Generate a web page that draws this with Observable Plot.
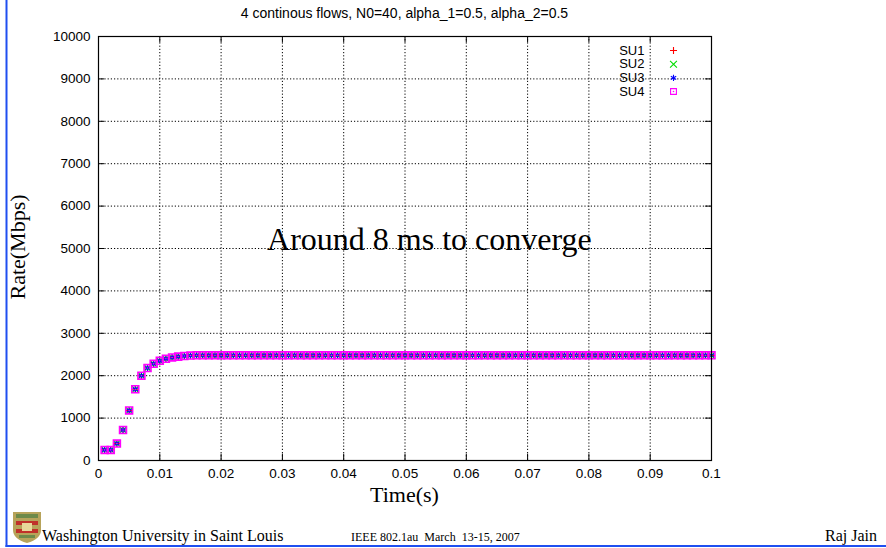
<!DOCTYPE html>
<html>
<head>
<meta charset="utf-8">
<script src="https://cdn.jsdelivr.net/npm/d3@7"></script>
<script src="https://cdn.jsdelivr.net/npm/@observablehq/plot@0.6"></script>
<style>
  html, body { margin: 0; padding: 0; background: #fff; }
  #wrap { position: relative; width: 886px; height: 548px; overflow: hidden; }
  #wrap > svg { position: absolute; left: 0; top: 0; }
  #overlay { pointer-events: none; }
</style>
</head>
<body>
<div id="wrap"></div>
<script>
// ---- data ----
const titleText = "4 continous flows, N0=40, alpha_1=0.5, alpha_2=0.5";
const seriesNames = ["SU1", "SU2", "SU3", "SU4"];
const seriesColors = ["#ff0000", "#00dd00", "#0000ff", "#ff00ff"];
const seriesSymbols = ["plus", "times", "asterisk", "square"];
const xTicks = [0, 0.01, 0.02, 0.03, 0.04, 0.05, 0.06, 0.07, 0.08, 0.09, 0.1];
const xTickLabels = ["0", "0.01", "0.02", "0.03", "0.04", "0.05", "0.06", "0.07", "0.08", "0.09", "0.1"];
const yTicks = [0, 1000, 2000, 3000, 4000, 5000, 6000, 7000, 8000, 9000, 10000];
const yTickLabels = ["0", "1000", "2000", "3000", "4000", "5000", "6000", "7000", "8000", "9000", "10000"];
const time = [
  0.001, 0.002, 0.003, 0.004, 0.005, 0.006, 0.007, 0.008, 0.009, 0.010,
  0.011, 0.012, 0.013, 0.014, 0.015, 0.016, 0.017, 0.018, 0.019, 0.020,
  0.021, 0.022, 0.023, 0.024, 0.025, 0.026, 0.027, 0.028, 0.029, 0.030,
  0.031, 0.032, 0.033, 0.034, 0.035, 0.036, 0.037, 0.038, 0.039, 0.040,
  0.041, 0.042, 0.043, 0.044, 0.045, 0.046, 0.047, 0.048, 0.049, 0.050,
  0.051, 0.052, 0.053, 0.054, 0.055, 0.056, 0.057, 0.058, 0.059, 0.060,
  0.061, 0.062, 0.063, 0.064, 0.065, 0.066, 0.067, 0.068, 0.069, 0.070,
  0.071, 0.072, 0.073, 0.074, 0.075, 0.076, 0.077, 0.078, 0.079, 0.080,
  0.081, 0.082, 0.083, 0.084, 0.085, 0.086, 0.087, 0.088, 0.089, 0.090,
  0.091, 0.092, 0.093, 0.094, 0.095, 0.096, 0.097, 0.098, 0.099, 0.100
];
const su1 = [
  250, 250, 400, 720, 1180, 1680, 2000, 2180, 2280, 2350,
  2400, 2430, 2450, 2465, 2475, 2480, 2480, 2480, 2480, 2480,
  2480, 2480, 2480, 2480, 2480, 2480, 2480, 2480, 2480, 2480,
  2480, 2480, 2480, 2480, 2480, 2480, 2480, 2480, 2480, 2480,
  2480, 2480, 2480, 2480, 2480, 2480, 2480, 2480, 2480, 2480,
  2480, 2480, 2480, 2480, 2480, 2480, 2480, 2480, 2480, 2480,
  2480, 2480, 2480, 2480, 2480, 2480, 2480, 2480, 2480, 2480,
  2480, 2480, 2480, 2480, 2480, 2480, 2480, 2480, 2480, 2480,
  2480, 2480, 2480, 2480, 2480, 2480, 2480, 2480, 2480, 2480,
  2480, 2480, 2480, 2480, 2480, 2480, 2480, 2480, 2480, 2480
];
const su2 = [
  250, 250, 400, 720, 1180, 1680, 2000, 2180, 2280, 2350,
  2400, 2430, 2450, 2465, 2475, 2480, 2480, 2480, 2480, 2480,
  2480, 2480, 2480, 2480, 2480, 2480, 2480, 2480, 2480, 2480,
  2480, 2480, 2480, 2480, 2480, 2480, 2480, 2480, 2480, 2480,
  2480, 2480, 2480, 2480, 2480, 2480, 2480, 2480, 2480, 2480,
  2480, 2480, 2480, 2480, 2480, 2480, 2480, 2480, 2480, 2480,
  2480, 2480, 2480, 2480, 2480, 2480, 2480, 2480, 2480, 2480,
  2480, 2480, 2480, 2480, 2480, 2480, 2480, 2480, 2480, 2480,
  2480, 2480, 2480, 2480, 2480, 2480, 2480, 2480, 2480, 2480,
  2480, 2480, 2480, 2480, 2480, 2480, 2480, 2480, 2480, 2480
];
const su3 = [
  250, 250, 400, 720, 1180, 1680, 2000, 2180, 2280, 2350,
  2400, 2430, 2450, 2465, 2475, 2480, 2480, 2480, 2480, 2480,
  2480, 2480, 2480, 2480, 2480, 2480, 2480, 2480, 2480, 2480,
  2480, 2480, 2480, 2480, 2480, 2480, 2480, 2480, 2480, 2480,
  2480, 2480, 2480, 2480, 2480, 2480, 2480, 2480, 2480, 2480,
  2480, 2480, 2480, 2480, 2480, 2480, 2480, 2480, 2480, 2480,
  2480, 2480, 2480, 2480, 2480, 2480, 2480, 2480, 2480, 2480,
  2480, 2480, 2480, 2480, 2480, 2480, 2480, 2480, 2480, 2480,
  2480, 2480, 2480, 2480, 2480, 2480, 2480, 2480, 2480, 2480,
  2480, 2480, 2480, 2480, 2480, 2480, 2480, 2480, 2480, 2480
];
const su4 = [
  250, 250, 400, 720, 1180, 1680, 2000, 2180, 2280, 2350,
  2400, 2430, 2450, 2465, 2475, 2480, 2480, 2480, 2480, 2480,
  2480, 2480, 2480, 2480, 2480, 2480, 2480, 2480, 2480, 2480,
  2480, 2480, 2480, 2480, 2480, 2480, 2480, 2480, 2480, 2480,
  2480, 2480, 2480, 2480, 2480, 2480, 2480, 2480, 2480, 2480,
  2480, 2480, 2480, 2480, 2480, 2480, 2480, 2480, 2480, 2480,
  2480, 2480, 2480, 2480, 2480, 2480, 2480, 2480, 2480, 2480,
  2480, 2480, 2480, 2480, 2480, 2480, 2480, 2480, 2480, 2480,
  2480, 2480, 2480, 2480, 2480, 2480, 2480, 2480, 2480, 2480,
  2480, 2480, 2480, 2480, 2480, 2480, 2480, 2480, 2480, 2480
];
const annotation = {text: "Around 8 ms to converge", x: 0.0275, y: 4960};
const xLabel = "Time(s)";
const yLabel = "Rate(Mbps)";
const footerLeft = "Washington University in Saint Louis";
const footerMid = "IEEE 802.1au  March  13-15, 2007";
const footerRight = "Raj Jain";

// ---- build ----
const allSeries = [su1, su2, su3, su4];
const rows = seriesNames.map((name, s) => time.map((t, i) => ({t, v: allSeries[s][i], name})));

const sans = "'Liberation Sans', Arial, Helvetica, sans-serif";
const serif = "'Liberation Serif', 'Times New Roman', Times, serif";

// symbol radii (Plot r) giving ~7px wide glyphs with d3's symbol geometry
const symbolR = {plus: 2.4, times: 3.2, asterisk: 2.9, square: 3.9};

const marks = [
  Plot.gridX(xTicks, {stroke: "#000", strokeOpacity: 1, strokeDasharray: "1.2,2", strokeWidth: 1}),
  Plot.gridY(yTicks, {stroke: "#000", strokeOpacity: 1, strokeDasharray: "1.2,2", strokeWidth: 1}),
  // inward tick marks on all four sides
  Plot.ruleX(xTicks, {x: d => d, y1: 0, y2: 150, stroke: "#000"}),
  Plot.ruleX(xTicks, {x: d => d, y1: 9850, y2: 10000, stroke: "#000"}),
  Plot.ruleY(yTicks, {y: d => d, x1: 0, x2: 0.001, stroke: "#000"}),
  Plot.ruleY(yTicks, {y: d => d, x1: 0.099, x2: 0.1, stroke: "#000"}),
  Plot.axisX(xTicks, {tickSize: 0, tickPadding: 8, fontSize: 13.5, fontFamily: sans, fill: "#000",
    tickFormat: d => xTickLabels[xTicks.indexOf(d)]}),
  Plot.axisY(yTicks, {tickSize: 0, tickPadding: 8, fontSize: 13.5, fontFamily: sans, fill: "#000",
    tickFormat: d => yTickLabels[yTicks.indexOf(d)]}),
  Plot.text([annotation], {x: "x", y: "y", text: "text", textAnchor: "start", lineAnchor: "bottom",
    fontSize: 32, fontFamily: serif, fill: "#000"})
];

rows.forEach((data, s) => {
  const sym = seriesSymbols[s];
  const isSquare = sym === "square";
  marks.push(Plot.dot(data, {x: "t", y: "v", symbol: sym, fill: "none", stroke: seriesColors[s],
    r: symbolR[sym], strokeWidth: isSquare ? 1.6 : 1.1}));
  if (isSquare) marks.push(Plot.dot(data, {x: "t", y: "v", r: 0.8, fill: seriesColors[s], stroke: "none"}));
});

// legend (top-right inside the frame)
const legendDy = [14, 27.7, 41.4, 55];
seriesNames.forEach((name, s) => {
  const sym = seriesSymbols[s];
  const isSquare = sym === "square";
  marks.push(Plot.text([name], {frameAnchor: "top-right", dx: -67, dy: legendDy[s], text: d => d,
    textAnchor: "end", lineAnchor: "middle", fontSize: 13, fontFamily: sans, fill: "#000"}));
  marks.push(Plot.dot([name], {frameAnchor: "top-right", dx: -38, dy: legendDy[s], symbol: sym,
    fill: "none", stroke: seriesColors[s], r: isSquare ? 3.3 : symbolR[sym], strokeWidth: 1.1}));
  if (isSquare) marks.push(Plot.dot([name], {frameAnchor: "top-right", dx: -38, dy: legendDy[s], r: 0.8, fill: seriesColors[s]}));
});

marks.push(Plot.frame({stroke: "#000", strokeWidth: 1.2}));

const chart = Plot.plot({
  width: 886,
  height: 548,
  marginLeft: 98,
  marginRight: 175,
  marginTop: 36,
  marginBottom: 88,
  style: {fontFamily: sans, background: "transparent", color: "#000"},
  x: {domain: [0, 0.1], axis: null},
  y: {domain: [0, 10000], axis: null},
  marks
});
document.getElementById("wrap").appendChild(chart);

// overlay: titles, slide footer and border
const ns = "http://www.w3.org/2000/svg";
const ov = d3.select("#wrap").append("svg").attr("id", "overlay")
  .attr("width", 886).attr("height", 548).attr("xmlns", ns);

ov.append("text").attr("x", 404.5).attr("y", 18).attr("text-anchor", "middle")
  .attr("font-family", sans).attr("font-size", 14).text(titleText);
ov.append("text").attr("transform", "translate(25,247) rotate(-90)").attr("text-anchor", "middle")
  .attr("font-family", serif).attr("font-size", 22).text(yLabel);
ov.append("text").attr("x", 404.5).attr("y", 502).attr("text-anchor", "middle")
  .attr("font-family", serif).attr("font-size", 22).text(xLabel);

// blue slide border
ov.append("rect").attr("x", 5.5).attr("y", 0).attr("width", 2).attr("height", 547).attr("fill", "#1f4ff0");
ov.append("rect").attr("x", 5.5).attr("y", 545).attr("width", 881).attr("height", 2).attr("fill", "#1f4ff0");

// university shield logo (decoration)
const logo = ov.append("g").attr("transform", "translate(13,512)");
logo.append("path").attr("d", "M0,0 H28 V18 Q28,27 14,31 Q0,27 0,18 Z").attr("fill", "#b7a35a");
logo.append("rect").attr("x", 3).attr("y", 9).attr("width", 22).attr("height", 4).attr("fill", "#c0302a");
logo.append("rect").attr("x", 3).attr("y", 17).attr("width", 22).attr("height", 4).attr("fill", "#c0302a");
logo.append("rect").attr("x", 9).attr("y", 11).attr("width", 10).attr("height", 8).attr("fill", "#e8d79a");
logo.append("rect").attr("x", 3).attr("y", 2).attr("width", 22).attr("height", 4).attr("fill", "#6d8a4a");
logo.append("rect").attr("x", 6).attr("y", 23).attr("width", 16).attr("height", 3).attr("fill", "#6d8a4a");

ov.append("text").attr("x", 42).attr("y", 541).attr("font-family", serif).attr("font-size", 16).text(footerLeft);
ov.append("text").attr("x", 351).attr("y", 541).attr("font-family", serif).attr("font-size", 12)
  .attr("xml:space", "preserve").style("white-space", "pre").text(footerMid);
ov.append("text").attr("x", 877).attr("y", 541).attr("text-anchor", "end").attr("font-family", serif)
  .attr("font-size", 16).text(footerRight);
</script>
</body>
</html>
